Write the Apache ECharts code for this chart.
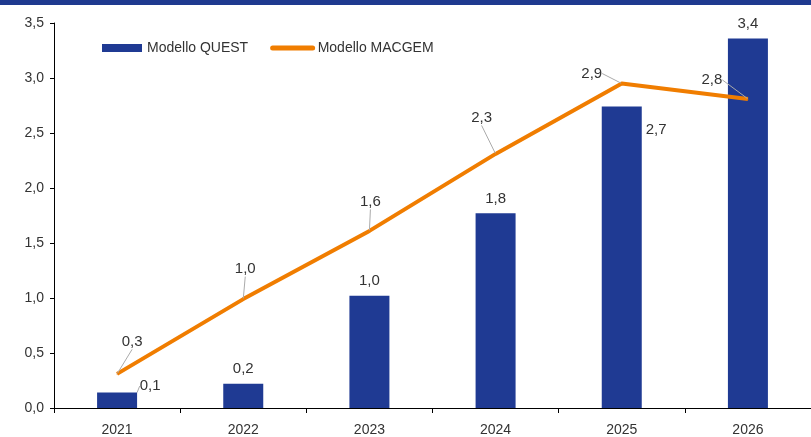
<!DOCTYPE html>
<html>
<head>
<meta charset="utf-8">
<script src="https://cdn.jsdelivr.net/npm/echarts@6/dist/echarts.min.js"></script>
<style>
  html, body { margin: 0; padding: 0; background: #fff; }
  #chart { width: 811px; height: 437px; }
</style>
</head>
<body>
<div id="chart"></div>
<script>
const years = ["2021", "2022", "2023", "2024", "2025", "2026"]
const questValues = [0.14, 0.22, 1.02, 1.77, 2.74, 3.36]
const macgemValues = [0.31, 0.99, 1.61, 2.31, 2.95, 2.81]
// etichette come nel grafico originale (virgola decimale)
const questLabels = ["0,1", "0,2", "1,0", "1,8", "2,7", "3,4"]
const macgemLabels = ["0,3", "1,0", "1,6", "2,3", "2,9", "2,8"]

const FONT = "'Liberation Sans', Arial, sans-serif"
const TEXT = "#333"

// spostamenti delle etichette della linea (con linea guida grigia)
const lineLabelShift = [[15, -19], [2, -17], [1, -16], [-14, -23], [-30, 3], [-36, -6]]

const myChart = echarts.init(document.getElementById("chart"))

const option = {
  animation: false,
  graphic: [
    {
      type: "rect",
      left: 0,
      top: 0,
      shape: { width: 811, height: 5 },
      style: { fill: "#1f3a8f" }
    }
  ],
  legend: {
    left: 97,
    top: 36,
    itemWidth: 40,
    itemHeight: 8,
    itemGap: 22,
    textStyle: { fontFamily: FONT, fontSize: 14, color: TEXT },
    data: [
      { name: "Modello QUEST", icon: "rect" },
      { name: "Modello MACGEM", itemStyle: { opacity: 0 }, lineStyle: { width: 5, cap: "round" } }
    ]
  },
  grid: {
    left: 54,
    top: 23,
    width: 760,
    bottom: 29
  },
  xAxis: {
    type: "category",
    data: years,
    axisLine: { lineStyle: { color: "#000", width: 1 } },
    axisTick: { show: true, length: 5, lineStyle: { color: "#000" } },
    axisLabel: { fontFamily: FONT, fontSize: 14, color: TEXT, margin: 15 }
  },
  yAxis: {
    type: "value",
    min: 0,
    max: 3.5,
    interval: 0.5,
    axisLine: { show: true, lineStyle: { color: "#000", width: 1 } },
    axisTick: { show: true, length: 4, lineStyle: { color: "#000" } },
    splitLine: { show: false },
    axisLabel: {
      fontFamily: FONT,
      fontSize: 14,
      color: TEXT,
      margin: 10,
      formatter: (v) => v.toFixed(1).replace(".", ",")
    }
  },
  series: [
    {
      name: "Modello QUEST",
      type: "bar",
      barWidth: 40,
      itemStyle: { color: "#1f3a93" },
      label: {
        show: true,
        position: "top",
        distance: 7,
        fontFamily: FONT,
        fontSize: 15,
        color: TEXT,
        formatter: (p) => questLabels[p.dataIndex]
      },
      labelLine: { show: false, lineStyle: { color: "#aaa", width: 1 } },
      labelLayout: (p) => (p.dataIndex === 0 ? { dx: 33, dy: 8 } : {}),
      data: questValues.map((v, i) => {
        if (i === 0) return { value: v, labelLine: { show: true, lineStyle: { color: "#aaa", width: 1 } } }
        if (i === 4) return { value: v, label: { position: [44, 16] } }
        return v
      })
    },
    {
      name: "Modello MACGEM",
      type: "line",
      symbol: "circle",
      symbolSize: 1,
      showSymbol: true,
      lineStyle: { color: "#f07d00", width: 4 },
      itemStyle: { color: "#f07d00" },
      label: {
        show: true,
        position: "top",
        fontFamily: FONT,
        fontSize: 15,
        color: TEXT,
        formatter: (p) => macgemLabels[p.dataIndex]
      },
      labelLine: { show: true, lineStyle: { color: "#aaa", width: 1 } },
      labelLayout: (p) => ({ dx: lineLabelShift[p.dataIndex][0], dy: lineLabelShift[p.dataIndex][1] }),
      z: 3,
      data: macgemValues
    }
  ]
}
myChart.setOption(option, true)
</script>
</body>
</html>
